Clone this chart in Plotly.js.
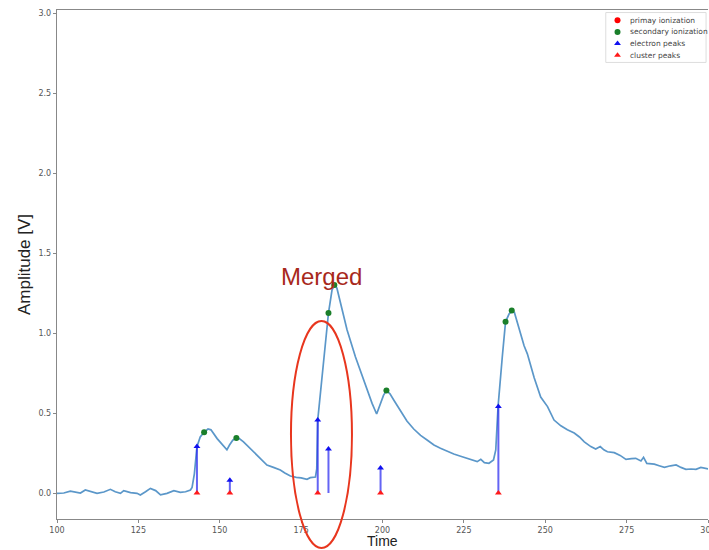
<!DOCTYPE html>
<html>
<head>
<meta charset="utf-8">
<script src="https://cdn.plot.ly/plotly-3.0.1.min.js"></script>
<style>html,body{margin:0;padding:0;background:#fff;}#chart{width:709px;height:550px;}</style>
</head>
<body>
<div id="chart"></div>
<script>
// waveform
const timeX = [100.0,102.1,104.1,105.6,107.2,108.7,110.3,112.3,114.4,116.4,117.9,119.5,120.5,121.5,122.6,124.6,125.6,127.2,128.7,130.3,131.8,133.8,135.9,137.9,139.5,141.0,141.5,
142.2,143.0,144.0,145.2,146.4,147.3,149.2,150.7,152.2,153.0,154.0,155.1,156.0,157.3,159.3,161.4,163.0,164.5,166.5,168.6,170.0,171.7,173.5,175.0,176.8,177.8,179.4,179.8,
180.1,180.9,181.7,182.5,183.4,184.5,185.3,186.0,187.1,189.1,191.7,194.2,196.8,198.2,199.4,200.3,201.2,202.3,203.5,205.5,207.5,209.6,211.7,213.8,215.8,217.8,219.8,221.9,
224.0,226.1,228.0,229.1,230.2,231.3,232.7,234.1,234.8,235.5,236.8,237.8,238.9,239.8,240.5,241.4,242.5,243.5,244.5,246.6,248.6,250.7,252.7,254.8,256.8,258.9,260.5,262.0,
264.0,265.5,266.9,268.0,269.1,271.2,273.0,274.8,276.5,277.8,279.4,280.2,281.2,283.5,285.0,286.6,288.5,290.2,291.7,293.2,294.8,296.3,297.8,299.3,300.6];
const amplitude = [-0.002,0.0,0.012,0.008,0.0,0.019,0.008,-0.002,0.006,0.023,0.008,-0.002,0.015,0.008,0.002,-0.002,-0.012,0.008,0.029,0.015,-0.012,-0.002,0.015,0.004,0.008,0.019,0.035,
0.12,0.29,0.35,0.38,0.40,0.395,0.34,0.305,0.27,0.30,0.33,0.344,0.34,0.32,0.28,0.237,0.20,0.175,0.16,0.144,0.125,0.106,0.098,0.095,0.086,0.096,0.10,0.15,
0.456,0.62,0.80,0.98,1.125,1.27,1.30,1.28,1.185,1.02,0.85,0.706,0.56,0.494,0.56,0.61,0.64,0.62,0.58,0.515,0.45,0.40,0.36,0.33,0.30,0.28,0.26,0.244,
0.23,0.217,0.205,0.196,0.21,0.19,0.186,0.206,0.27,0.54,0.85,1.07,1.12,1.135,1.13,1.07,1.00,0.92,0.87,0.72,0.60,0.54,0.456,0.42,0.395,0.375,0.35,0.32,
0.29,0.275,0.29,0.27,0.258,0.252,0.235,0.21,0.215,0.217,0.20,0.223,0.185,0.18,0.17,0.16,0.17,0.175,0.16,0.148,0.15,0.148,0.16,0.152,0.148];

// markers
const primaryX = [];
const primaryY = [];
const secondaryX = [145.2,155.1,183.4,185.2,201.2,237.8,239.7];
const secondaryY = [0.38,0.344,1.125,1.30,0.64,1.07,1.14];
const electronX = [143.0,153.1,180.1,183.4,199.4,235.6];
const electronY = [0.29,0.08,0.456,0.275,0.156,0.54];
const clusterX = [143.0,153.1,180.1,199.4,235.6];
const clusterY = [0,0,0,0,0];

// tick labels
const xTickVals = [100,125,150,175,200,225,250,275,300];
const xTickText = ['100','125','150','175','200','225','250','275','300'];
const yTickVals = [0,0.5,1,1.5,2,2.5,3];
const yTickText = ['0.0','0.5','1.0','1.5','2.0','2.5','3.0'];

// legend entries
const legendLabels = ['primay ionization','secondary ionization','electron peaks','cluster peaks'];
const legendColors = ['#ff0000','#1a7f2a','#1010f0','#ff1a1a'];
const legendSymbols = ['circle','circle','triangle-up','triangle-up'];

// stems from baseline to electron peaks
const stemX = [], stemY = [];
electronX.forEach((x,i)=>{ stemX.push(x,x,null); stemY.push(0,electronY[i],null); });

// legend layout (paper coordinates via overlay axes)
const legRowY = [0.980, 0.957, 0.934, 0.911];
const legMarkX = legendLabels.map(()=>0.861);

const traces = [
  {x: timeX, y: amplitude, mode:'lines', line:{color:'#5b97c9', width:1.7}, showlegend:false, hoverinfo:'skip'},
  {x: stemX, y: stemY, mode:'lines', line:{color:'rgba(40,40,240,0.72)', width:2}, showlegend:false, hoverinfo:'skip'},
  {x: primaryX, y: primaryY, mode:'markers', name:legendLabels[0], marker:{color:legendColors[0], size:6, symbol:legendSymbols[0]}, showlegend:false},
  {x: secondaryX, y: secondaryY, mode:'markers', name:legendLabels[1], marker:{color:legendColors[1], size:6, symbol:legendSymbols[1]}, showlegend:false},
  {x: electronX, y: electronY, mode:'markers', name:legendLabels[2], marker:{color:legendColors[2], size:6, symbol:legendSymbols[2]}, showlegend:false},
  {x: clusterX, y: clusterY, mode:'markers', name:legendLabels[3], marker:{color:legendColors[3], size:6, symbol:legendSymbols[3]}, showlegend:false},
  {x: legMarkX, y: legRowY, xaxis:'x2', yaxis:'y2', mode:'markers', showlegend:false, hoverinfo:'skip',
   marker:{color:legendColors, size:6, symbol:legendSymbols}}
];

const tickFont = {family:'DejaVu Sans, sans-serif', size:8, color:'#555'};
const annotations = [
  {x:181.2, y:1.356, xref:'x', yref:'y', text:'Merged', showarrow:false,
   font:{family:'Liberation Sans, Arial, sans-serif', size:24, color:'#a8291c'}},
  {x:0.5, y:-0.0442, xref:'paper', yref:'paper', text:'Time', showarrow:false, xanchor:'center', yanchor:'middle', borderpad:0,
   font:{family:'Liberation Sans, Arial, sans-serif', size:14, color:'#222'}}
];
legendLabels.forEach((t,i)=>annotations.push({x:0.877, y:legRowY[i], xref:'paper', yref:'paper', text:t, showarrow:false,
  xanchor:'left', yanchor:'middle', font:{family:'DejaVu Sans, sans-serif', size:7.5, color:'#444'}}));

const layout = {
  width:709, height:550,
  margin:{l:57, r:1, t:10, b:31},
  paper_bgcolor:'#fff', plot_bgcolor:'#fff',
  font:{family:'Liberation Sans, Arial, sans-serif'},
  showlegend:false,
  xaxis:{range:[100,300], tickvals:xTickVals, ticktext:xTickText,
         automargin:false, ticklabeloverflow:'allow',
         showgrid:false, zeroline:false, showline:true, linecolor:'#888', linewidth:1.2, mirror:true,
         ticks:'outside', ticklen:3, tickcolor:'#888', tickfont:tickFont},
  yaxis:{range:[-0.1625,3.019], tickvals:yTickVals, ticktext:yTickText,
         automargin:false,
         showgrid:false, zeroline:false, showline:true, linecolor:'#888', linewidth:1.2,
         ticks:'outside', ticklen:3, tickcolor:'#888', tickfont:tickFont,
         title:{text:'Amplitude [V]', font:{size:17, color:'#222'}, standoff:3}},
  xaxis2:{domain:[0,1], range:[0,1], anchor:'y2', overlaying:'x', visible:false, fixedrange:true},
  yaxis2:{domain:[0,1], range:[0,1], anchor:'x2', overlaying:'y', visible:false, fixedrange:true},
  shapes:[{type:'circle', xref:'paper', yref:'paper', x0:0.3594, x1:0.4531, y0:-0.057, y1:0.389,
           line:{color:'#e8361e', width:2}},
          {type:'rect', xref:'paper', yref:'paper', x0:0.843, x1:0.997, y0:0.897, y1:0.995,
           line:{color:'#dddddd', width:1}, fillcolor:'rgba(255,255,255,0.8)', layer:'below'}],
  annotations: annotations
};
Plotly.newPlot('chart', traces, layout, {displayModeBar:false, staticPlot:true});
</script>
</body>
</html>
